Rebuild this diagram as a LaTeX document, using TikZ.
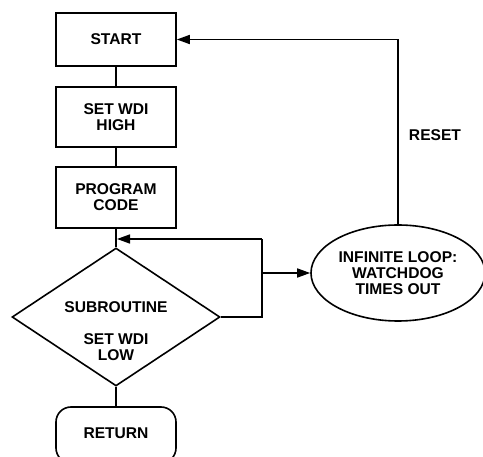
\documentclass[tikz,border=0pt]{standalone}
\usepackage{fontspec}
\setmainfont{Liberation Sans}
\usetikzlibrary{shapes.geometric,arrows.meta}
\begin{document}
\begin{tikzpicture}[x=1pt,y=-1pt,
  every node/.style={font=\fontsize{15.6}{16}\selectfont\bfseries, align=center, line width=1.6pt},
  box/.style={draw, rectangle, minimum width=120pt, inner sep=0pt},
  dec/.style={draw, diamond, minimum width=208pt, minimum height=138pt, inner sep=0pt},
  term/.style={draw, rectangle, rounded corners=15pt, minimum width=120pt, minimum height=56pt, inner sep=0pt},
  oval/.style={draw, ellipse, minimum width=174pt, minimum height=96pt, inner sep=0pt},
  conn/.style={line width=1.6pt},
  arr/.style={conn, -{Triangle[length=13pt,width=9pt]}}
]
\useasboundingbox (0,0) rectangle (483,457);
\node[box, minimum height=53pt] (start) at (116,39.5) {START};
\node[box, minimum height=60pt] (high) at (116,117) {SET WDI\\HIGH};
\node[box, minimum height=61pt] (prog) at (116,197.5) {PROGRAM\\CODE};
\node[dec] (sub) at (116,317) {};
\node (subtxt) at (116,331) {SUBROUTINE\\[16pt]SET WDI\\LOW};
\node[term] (ret) at (116,435) {};
\node (rettxt) at (116,433) {RETURN};
\node[oval] (loop) at (398,273) {INFINITE LOOP:\\WATCHDOG\\TIMES OUT};
\node (reset) at (435,135) {RESET};
\coordinate (jr) at (262,317);
\coordinate (jt) at (262,239);
\coordinate (jb) at (262,273);
\coordinate (jm) at (117,239);
\draw[conn] (start) -- (high);
\draw[conn] (high) -- (prog);
\draw[conn] (prog) -- (sub.north);
\draw[conn] (sub.south) -- (ret);
\draw[conn] (sub.east) -- (jr) -- (jt);
\draw[arr] (jt) -- (jm);
\draw[arr] (jb) -- (loop.west);
\draw[arr] (loop.north) |- (start.east);
\end{tikzpicture}
\end{document}
